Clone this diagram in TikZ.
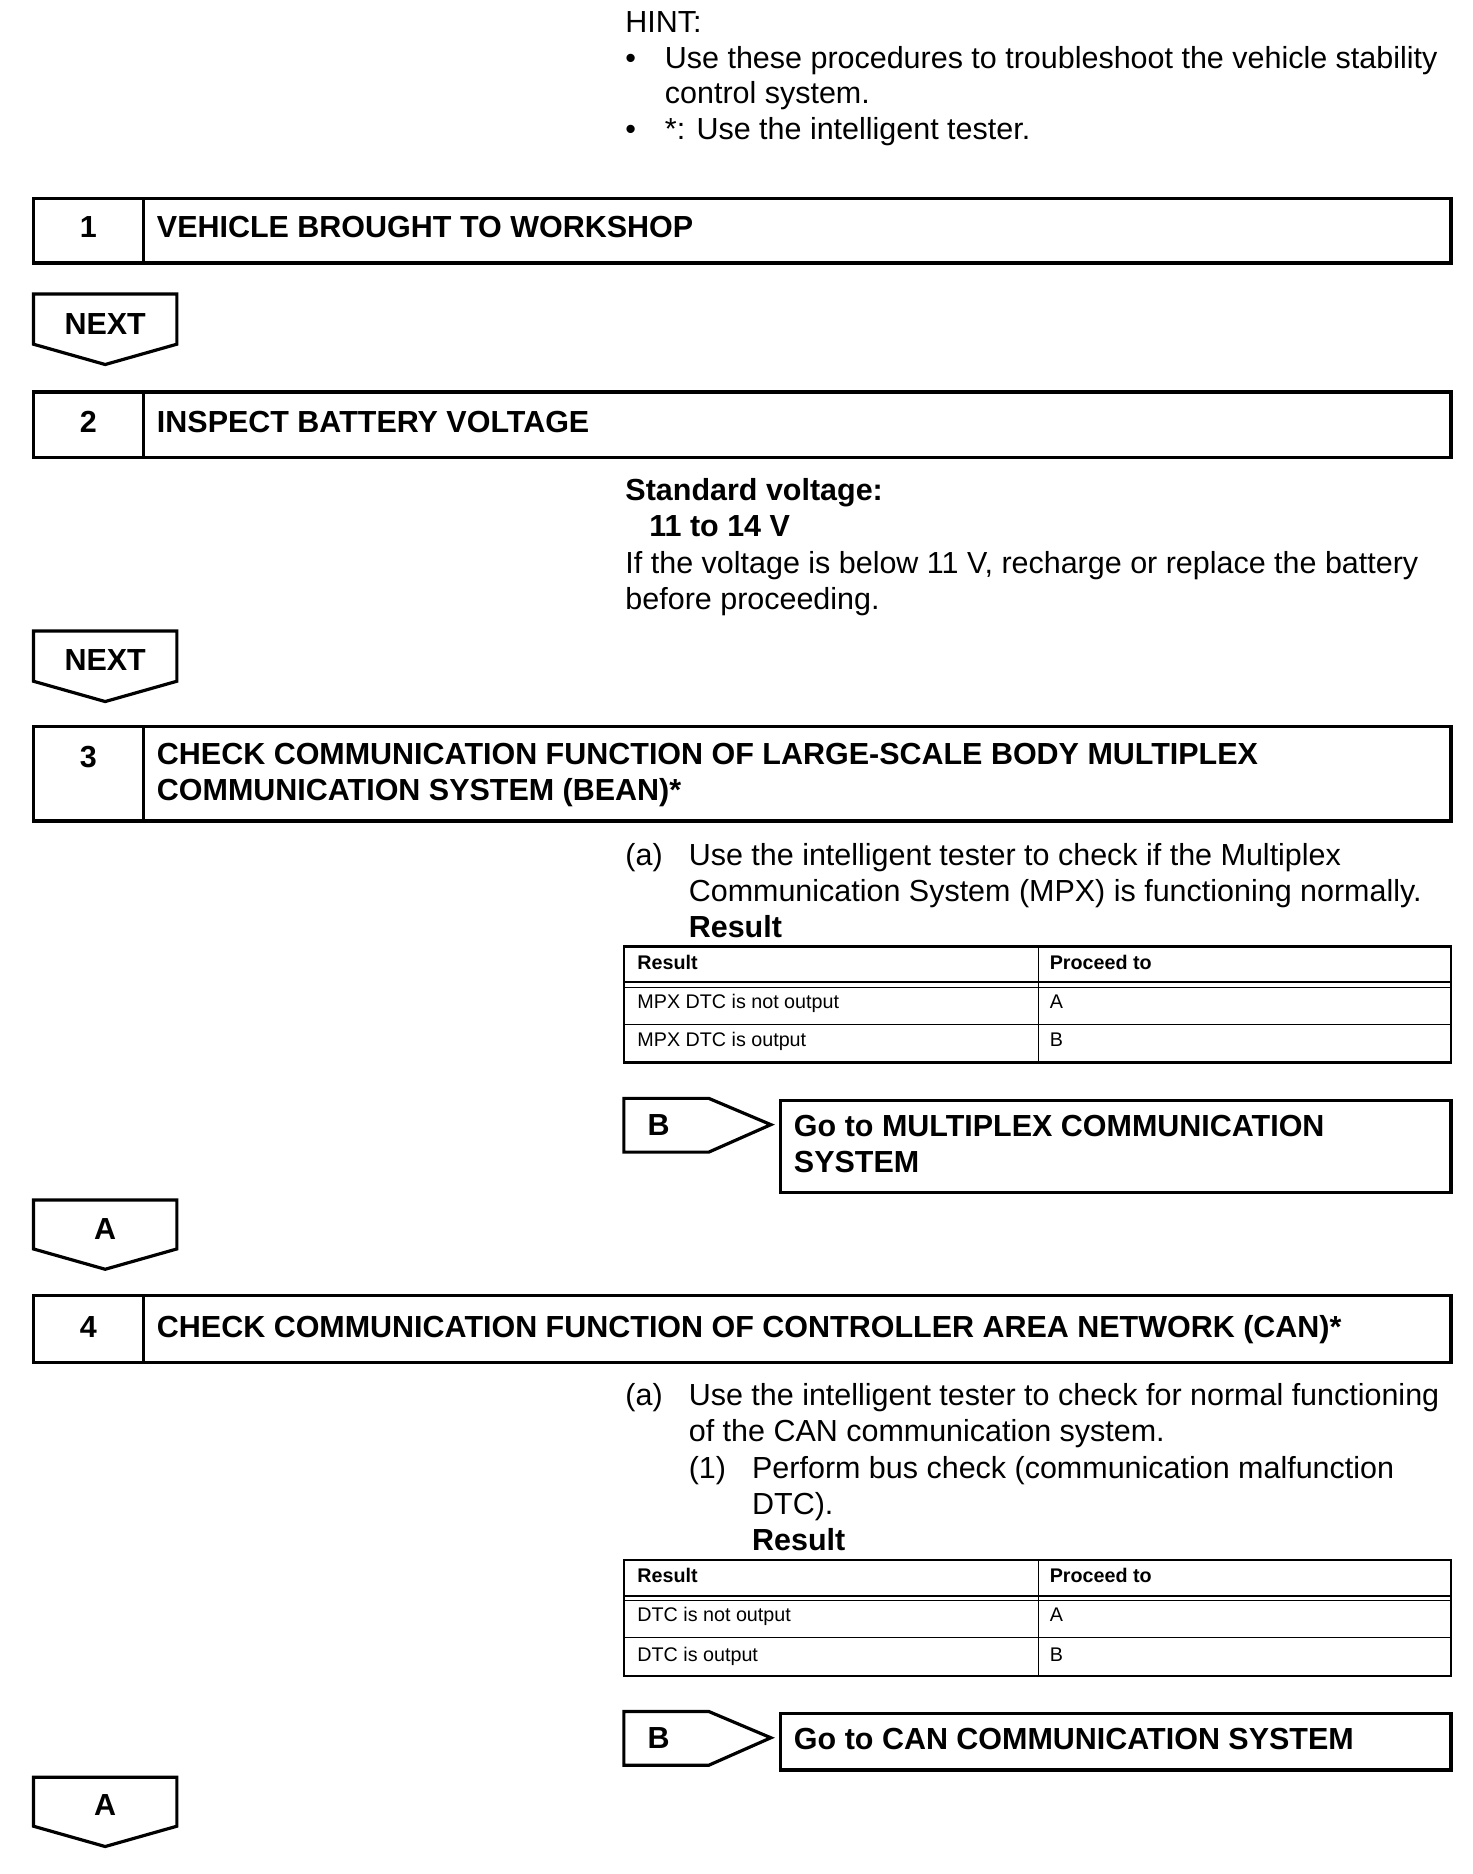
\documentclass[tikz,border=0pt]{standalone}
\usepackage{fontspec}
\setmainfont{Liberation Sans}
\usetikzlibrary{calc}
\definecolor{cink}{HTML}{000000}
\tikzset{
  every picture/.style={x=0.6pt, y=-0.6pt, line join=miter},
  frame/.style={draw=cink, line width=1.6pt},
  rule/.style={draw=cink, line width=0.6pt},
  txt/.style={anchor=base west, inner sep=0pt, text=cink, align=left, font=\fontsize{15.3}{18}\selectfont},
  bold/.style={txt, font=\fontsize{15.3}{18}\selectfont\bfseries},
  num/.style={anchor=base, inner sep=0pt, text=cink, font=\fontsize{15.3}{18}\selectfont\bfseries},
  cell/.style={anchor=base west, inner sep=0pt, text=cink, font=\fontsize{9.9}{12}\selectfont},
  cellhead/.style={cell, font=\fontsize{9.9}{12}\selectfont\bfseries},
}

\begin{document}
\begin{tikzpicture}
  \useasboundingbox (0,0) rectangle (1232,1568);

  % hint
  \node[txt] (hint) at (523,27) {HINT:};
  \node[txt] (dot1) at (523,57) {•};
  \node[txt] (hint1) at (556,87) {Use these procedures to troubleshoot the vehicle stability\\control system.};
  \node[txt] (dot2) at (523,117) {•};
  \node[txt] (hint2) at (556,117) {*: Use the intelligent tester.};

  % step 1
  \draw[frame] (28,166) rectangle (1214,220);
  \draw[frame] (120,166) -- (120,220);
  \node[num] (n1) at (74,199) {1};
  \node[bold] (s1) at (131,199) {VEHICLE BROUGHT TO WORKSHOP};

  \draw[frame] (28,246) -- (148,246) -- (148,288) -- (88,305) -- (28,288) -- cycle;
  \node[num] (next1) at (88,280) {NEXT};

  % step 2
  \draw[frame] (28,328) rectangle (1214,383);
  \draw[frame] (120,328) -- (120,383);
  \node[num] (n2) at (74,362) {2};
  \node[bold] (s2) at (131,362) {INSPECT BATTERY VOLTAGE};
  \node[bold] (std) at (523,419) {Standard voltage:};
  \node[bold] (volt) at (543,449) {11 to 14 V};
  \node[txt] (note2) at (523,510) {If the voltage is below 11 V, recharge or replace the battery\\before proceeding.};

  \draw[frame] (28,528) -- (148,528) -- (148,570) -- (88,587) -- (28,570) -- cycle;
  \node[num] (next2) at (88,561) {NEXT};

  % step 3
  \draw[frame] (28,608) rectangle (1214,687);
  \draw[frame] (120,608) -- (120,687);
  \node[num] (n3) at (74,642) {3};
  \node[bold] (s3) at (131,670) {CHECK COMMUNICATION FUNCTION OF LARGE-SCALE BODY MULTIPLEX\\COMMUNICATION SYSTEM (BEAN)*};
  \node[txt] (a3) at (523,724) {(a)};
  \node[txt] (a3t) at (576,754) {Use the intelligent tester to check if the Multiplex\\Communication System (MPX) is functioning normally.};
  \node[bold] (res3) at (576,784) {Result};

  \draw[frame, line width=1.1pt] (522,792) rectangle (1214,889);
  \draw[rule] (869,792) -- (869,889);
  \draw[rule, line width=1pt] (522,822) -- (1214,822);
  \draw[rule] (522,826) -- (1214,826);
  \draw[rule] (522,857) -- (1214,857);
  \node[cellhead] (h3a) at (533,811) {Result};
  \node[cellhead] (h3b) at (878,811) {Proceed to};
  \node[cell] (r3a) at (533,844) {MPX DTC is not output};
  \node[cell] (r3b) at (878,844) {A};
  \node[cell] (r3c) at (533,876) {MPX DTC is output};
  \node[cell] (r3d) at (878,876) {B};

  \draw[frame] (522,919) -- (593,919) -- (645,941) -- (593,964) -- (522,964) -- cycle;
  \node[num] (b3) at (551,950) {B};
  \draw[frame] (653,921) rectangle (1214,998);
  \node[bold] (go3) at (664,981) {Go to MULTIPLEX COMMUNICATION\\SYSTEM};

  \draw[frame] (28,1004) -- (148,1004) -- (148,1045) -- (88,1062) -- (28,1045) -- cycle;
  \node[num] (a3tag) at (88,1037) {A};

  % step 4
  \draw[frame] (28,1084) rectangle (1214,1140);
  \draw[frame] (120,1084) -- (120,1140);
  \node[num] (n4) at (74,1119) {4};
  \node[bold] (s4) at (131,1119) {CHECK COMMUNICATION FUNCTION OF CONTROLLER AREA NETWORK (CAN)*};
  \node[txt] (a4) at (523,1176) {(a)};
  \node[txt] (a4t) at (576,1206) {Use the intelligent tester to check for normal functioning\\of the CAN communication system.};
  \node[txt] (p4) at (576,1237) {(1)};
  \node[txt] (p4t) at (629,1267) {Perform bus check (communication malfunction\\DTC).};
  \node[bold] (res4) at (629,1297) {Result};

  \draw[frame, line width=1.1pt] (522,1305) rectangle (1214,1402);
  \draw[rule] (869,1305) -- (869,1402);
  \draw[rule, line width=1pt] (522,1335) -- (1214,1335);
  \draw[rule] (522,1339) -- (1214,1339);
  \draw[rule] (522,1370) -- (1214,1370);
  \node[cellhead] (h4a) at (533,1324) {Result};
  \node[cellhead] (h4b) at (878,1324) {Proceed to};
  \node[cell] (r4a) at (533,1357) {DTC is not output};
  \node[cell] (r4b) at (878,1357) {A};
  \node[cell] (r4c) at (533,1390) {DTC is output};
  \node[cell] (r4d) at (878,1390) {B};

  \draw[frame] (522,1432) -- (593,1432) -- (645,1454) -- (593,1477) -- (522,1477) -- cycle;
  \node[num] (b4) at (551,1463) {B};
  \draw[frame] (653,1434) rectangle (1214,1481);
  \node[bold] (go4) at (664,1464) {Go to CAN COMMUNICATION SYSTEM};

  \draw[frame] (28,1487) -- (148,1487) -- (148,1528) -- (88,1545) -- (28,1528) -- cycle;
  \node[num] (a4tag) at (88,1519) {A};
\end{tikzpicture}
\end{document}
